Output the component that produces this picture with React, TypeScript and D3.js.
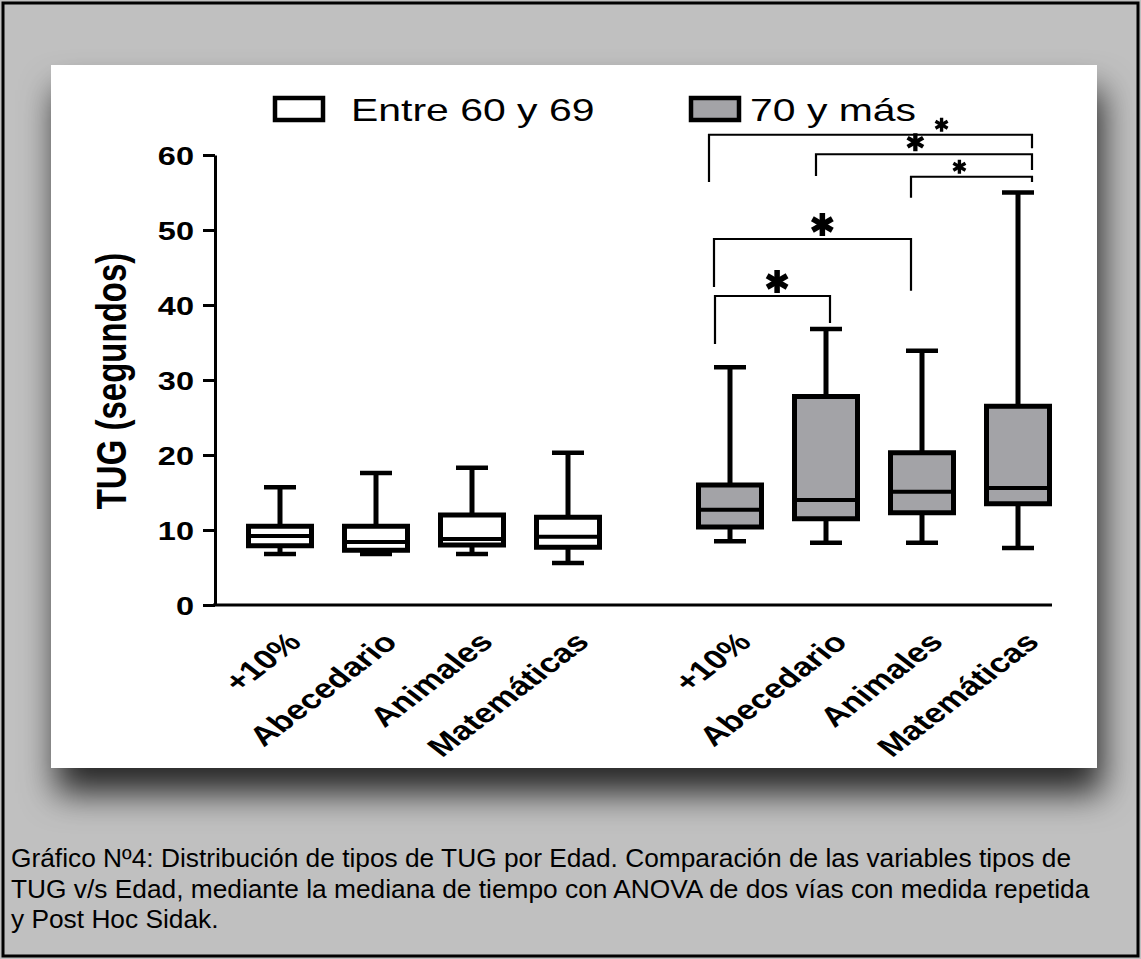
import { useEffect, useRef } from "react";
import * as d3 from "d3";

const W = 1141;
const H = 959;

// ----- data -----
const GROUPS = ["Entre 60 y 69", "70 y más"];
const CATEGORIES = ["+10%", "Abecedario", "Animales", "Matemáticas"];

// [min, q1, median, q3, max] per category, seconds
const YOUNG = [
  [6.8, 7.9, 9.2, 10.5, 15.7],
  [6.8, 7.3, 8.4, 10.5, 17.6],
  [6.8, 8.0, 8.8, 12.0, 18.3],
  [5.6, 7.7, 9.1, 11.7, 20.3],
];
const OLD = [
  [8.5, 10.4, 12.7, 16.0, 31.7],
  [8.3, 11.5, 14.0, 27.8, 36.8],
  [8.3, 12.3, 15.1, 20.3, 33.9],
  [7.6, 13.5, 15.6, 26.5, 55.0],
];

const Y_TICKS = [0, 10, 20, 30, 40, 50, 60];

// significance brackets in the "70 y más" group: bar height, leg ends (seconds)
const BRACKETS = [
  { from: 0, to: 3, h: 62.7, l: 56.4, r: 60.9 },
  { from: 1, to: 3, h: 60.1, l: 57.2, r: 58.0 },
  { from: 2, to: 3, h: 57.1, l: 54.3, r: 56.4 },
  { from: 0, to: 2, h: 48.8, l: 42.4, r: 41.9 },
  { from: 0, to: 1, h: 41.2, l: 34.8, r: 37.6 },
];
// leg nudges and star placement/size for each bracket
const BRACKET_STYLE = [
  { dl: -21, dr: 14, at: 0.72, size: 14 },
  { dl: -10, dr: 14, at: 0.46, size: 18 },
  { dl: -11, dr: 14, at: 0.4, size: 14 },
  { dl: -16, dr: -11, at: 0.55, size: 23 },
  { dl: -15, dr: 4, at: 0.54, size: 23 },
];

const CAPTION = [
  "Gráfico Nº4: Distribución de tipos de TUG por Edad. Comparación de las variables tipos de",
  "TUG v/s Edad, mediante la mediana de tiempo con ANOVA de dos vías con medida repetida",
  "y Post Hoc Sidak.",
];

const FONT = "'Liberation Sans', Arial, Helvetica, sans-serif";
const SX = 1.3; // the chart image is stretched sideways
const BOX_FILL = ["#ffffff", "#a3a3a7"];

export default function App() {
  const svgRef = useRef<SVGSVGElement>(null);

  useEffect(() => {
    const svg = d3.select(svgRef.current);
    svg.selectAll("*").remove();

    const defs = svg.append("defs");
    const filt = defs.append("filter").attr("id", "panel-shadow")
      .attr("x", "-10%").attr("y", "-10%").attr("width", "125%").attr("height", "140%");
    filt.append("feDropShadow")
      .attr("dx", 5).attr("dy", 25).attr("stdDeviation", 17)
      .attr("flood-color", "#000").attr("flood-opacity", 0.8);

    // page background + frame
    svg.append("rect").attr("width", W).attr("height", H).attr("fill", "#c0c0c0");
    svg.append("rect")
      .attr("x", 3).attr("y", 3).attr("width", W - 6).attr("height", H - 6)
      .attr("fill", "none").attr("stroke", "#000").attr("stroke-width", 3);

    // white chart panel
    svg.append("rect")
      .attr("x", 51).attr("y", 65).attr("width", 1046).attr("height", 703)
      .attr("fill", "#fff").attr("filter", "url(#panel-shadow)");

    const g = svg.append("g");

    // ----- scales -----
    const y = d3.scaleLinear().domain([0, 60]).range([605, 155]);
    const xGroup = d3.scalePoint().domain(GROUPS).range([424, 874]);
    const xInner = d3.scaleBand().domain(CATEGORIES).range([-192, 192]);
    const cx = (gi: number, ci: number) =>
      (xGroup(GROUPS[gi]) as number) + (xInner(CATEGORIES[ci]) as number) + xInner.bandwidth() / 2;

    const boxW = 63;
    const capW = 32;

    // ----- y axis -----
    const yAxis = d3.axisLeft(y).tickValues(Y_TICKS).tickSize(12).tickSizeOuter(0)
      .tickFormat(d3.format("d"));
    const yAxisG = g.append("g").attr("transform", "translate(215,0)").call(yAxis);
    yAxisG.select(".domain").attr("stroke", "#000").attr("stroke-width", 3);
    yAxisG.selectAll(".tick line").attr("stroke", "#000").attr("stroke-width", 3);
    yAxisG.selectAll(".tick text")
      .attr("x", 0).attr("dy", "0.36em")
      .attr("transform", `translate(-21,0) scale(${SX},1)`)
      .attr("fill", "#000")
      .attr("font-family", FONT).attr("font-weight", "bold").attr("font-size", 25)
      .attr("text-anchor", "end");

    // y label
    g.append("text")
      .attr("transform", `translate(111,381) scale(${SX},1) rotate(-90)`)
      .attr("text-anchor", "middle").attr("dy", "0.35em")
      .attr("font-family", FONT).attr("font-weight", "bold").attr("font-size", 33)
      .text("TUG (segundos)");

    // x axis line
    g.append("line")
      .attr("x1", 213).attr("x2", cx(1, 3) + 34)
      .attr("y1", y(0)).attr("y2", y(0))
      .attr("stroke", "#000").attr("stroke-width", 3);

    // ----- boxes -----
    [YOUNG, OLD].forEach((series, gi) => {
      series.forEach(([mn, q1, md, q3, mx], ci) => {
        const x = cx(gi, ci);
        const bg = g.append("g");
        bg.append("line")
          .attr("x1", x).attr("x2", x).attr("y1", y(mx)).attr("y2", y(mn))
          .attr("stroke", "#000").attr("stroke-width", 5);
        [mn, mx].forEach((v) => {
          bg.append("line")
            .attr("x1", x - capW / 2).attr("x2", x + capW / 2)
            .attr("y1", y(v)).attr("y2", y(v))
            .attr("stroke", "#000").attr("stroke-width", 4.5);
        });
        bg.append("rect")
          .attr("x", x - boxW / 2).attr("width", boxW)
          .attr("y", y(q3)).attr("height", y(q1) - y(q3))
          .attr("fill", BOX_FILL[gi]).attr("stroke", "#000").attr("stroke-width", 5);
        bg.append("line")
          .attr("x1", x - boxW / 2).attr("x2", x + boxW / 2)
          .attr("y1", y(md)).attr("y2", y(md))
          .attr("stroke", "#000").attr("stroke-width", 4);
      });
    });

    // ----- x labels -----
    GROUPS.forEach((_, gi) => {
      CATEGORIES.forEach((c, ci) => {
        g.append("text")
          .attr("transform", `translate(${cx(gi, ci) + 5},630) scale(${SX},1) rotate(-45)`)
          .attr("text-anchor", "end").attr("dy", "0.72em")
          .attr("font-family", FONT).attr("font-weight", "bold").attr("font-size", 27)
          .text(c);
      });
    });

    // ----- significance brackets -----
    const star = (sx: number, sy: number, size: number) => {
      const r = size / 2;
      [90, 30, 150].forEach((a) => {
        const t = (a * Math.PI) / 180;
        g.append("line")
          .attr("x1", sx - r * Math.cos(t)).attr("x2", sx + r * Math.cos(t))
          .attr("y1", sy - r * Math.sin(t)).attr("y2", sy + r * Math.sin(t))
          .attr("stroke", "#000").attr("stroke-width", size * 0.24);
      });
    };
    BRACKETS.forEach((b, i) => {
      const st = BRACKET_STYLE[i];
      const x1 = cx(1, b.from) + st.dl;
      const x2 = cx(1, b.to) + st.dr;
      const path = d3.path();
      path.moveTo(x1, y(b.l));
      path.lineTo(x1, y(b.h));
      path.lineTo(x2, y(b.h));
      path.lineTo(x2, y(b.r));
      g.append("path").attr("d", path.toString())
        .attr("fill", "none").attr("stroke", "#000").attr("stroke-width", 2.2);
      star(x1 + (x2 - x1) * st.at, y(b.h) - st.size / 2 - 3, st.size);
    });

    // ----- legend -----
    const legendX = [275, 691];
    GROUPS.forEach((name, gi) => {
      const lg = g.append("g").attr("transform", `translate(${legendX[gi]},98)`);
      lg.append("rect").attr("width", 48).attr("height", 22)
        .attr("fill", BOX_FILL[gi]).attr("stroke", "#000").attr("stroke-width", 4.5);
      lg.append("text")
        .attr("transform", `translate(${gi === 0 ? 76 : 59},23) scale(${SX},1)`)
        .attr("font-family", FONT).attr("font-size", 31.5)
        .text(name);
    });

    // ----- caption -----
    const cap = svg.append("text")
      .attr("font-family", FONT).attr("font-size", 26.3).attr("fill", "#000");
    CAPTION.forEach((line, i) => {
      cap.append("tspan").attr("x", 11).attr("y", 867 + i * 30.5).text(line);
    });
  }, []);

  return (
    <svg
      ref={svgRef}
      width={W}
      height={H}
      style={{ position: "absolute", left: 0, top: 0 }}
    />
  );
}
